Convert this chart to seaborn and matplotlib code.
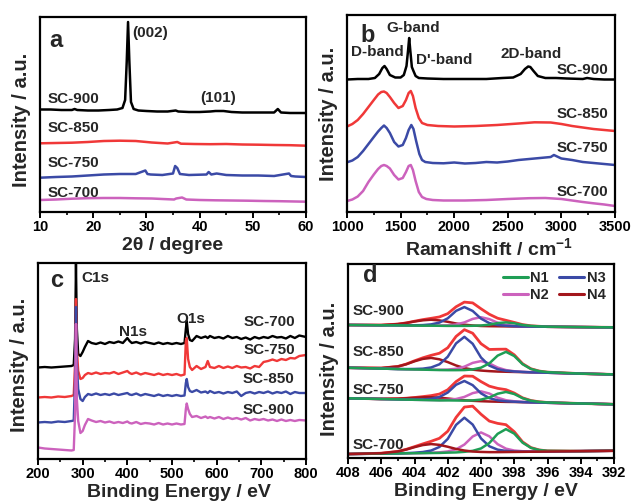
import numpy as np
import pandas as pd
import matplotlib
matplotlib.use("Agg")
import matplotlib.pyplot as plt
from matplotlib.ticker import MultipleLocator
from matplotlib.lines import Line2D
import seaborn as sns

sns.set_theme(style="white")
plt.rcParams['font.family'] = ['Liberation Sans', 'DejaVu Sans']
plt.rcParams['font.weight'] = 'bold'
plt.rcParams['axes.labelweight'] = 'bold'
plt.rcParams['mathtext.fontset'] = 'custom'
plt.rcParams['mathtext.rm'] = 'Liberation Sans:bold'
plt.rcParams['mathtext.bf'] = 'Liberation Sans:bold'
plt.rcParams['mathtext.it'] = 'Liberation Sans:bold'

BLACK, RED, BLUE, PINK = '#000000', '#f03838', '#3b4aa6', '#cc62bd'
GREEN, MAROON = '#1f9e55', '#a3161c'

# ---------------- Panel a : XRD ----------------
a_900_x = [10, 12, 14, 16, 16.5, 17, 19, 21, 23, 24.5, 25.5, 26.0, 26.3, 26.55, 26.8, 27.1, 27.6, 28.5, 30, 32,
           34, 35.5, 36, 38, 40, 42, 43, 44.5, 46, 48, 50, 52, 54, 54.7, 55.3, 57, 60]
a_900_y = [102.5, 102.5, 102, 102, 103, 102, 101.5, 101.5, 102, 102.5, 104, 112, 150, 190, 150, 110, 103, 101.5, 101, 100.5,
           100.5, 101.5, 100.5, 100, 100, 100.5, 101, 101, 100, 99.5, 99.5, 99.5, 99.5, 103, 99.5, 99, 99]
a_850_x = [10, 13, 16, 19, 22, 25, 28, 31, 34, 35.8, 36.5, 39, 42, 45, 48, 51, 54, 57, 60]
a_850_y = [68.7, 69, 69.3, 70, 71, 71.3, 71, 69.5, 68.5, 70, 68.3, 68, 67.8, 68, 67.5, 67.3, 67, 66.8, 66.3]
a_750_x = [10, 13, 16, 19, 22, 25, 28, 29.8, 30.2, 30.8, 33, 35.0, 35.4, 35.8, 36.3, 38, 41.3, 41.7, 42.2, 43.2,
           45, 48, 51, 54, 56.8, 57.2, 58, 60]
a_750_y = [34.3, 35, 35.5, 36.5, 37.5, 38, 38, 41.5, 38, 37.5, 37, 38.5, 46, 44, 38, 37, 37.5, 40, 37.5, 38.5,
           37, 36.5, 36.5, 36, 38.5, 36, 35.5, 35]
a_700_x = [10, 13, 16, 19, 22, 25, 28, 31, 33, 35.2, 35.6, 36.7, 37.5, 40, 43, 46, 49, 52, 55, 58, 60]
a_700_y = [12, 12.5, 13.3, 13.8, 14, 14, 13.7, 13.5, 13, 12.5, 13.5, 14.5, 12.5, 12, 11.7, 11.5, 11.3, 11, 10.8, 10.5, 10.3]

# ---------------- Panel b : Raman ----------------
b_900_x = [1000, 1100, 1200, 1260, 1300, 1330, 1350, 1370, 1400, 1450, 1500, 1530, 1555, 1570, 1580, 1590, 1605, 1620, 1640, 1670,
           1750, 1900, 2100, 2300, 2450, 2550, 2620, 2660, 2690, 2710, 2740, 2780, 2850, 2950, 3050, 3200, 3240, 3300, 3400, 3500]
b_900_y = [132.5, 133, 133, 134, 138, 144, 146, 143, 137, 134.5, 134.5, 137, 146, 162, 174, 162, 145, 141, 136, 134,
           133.5, 133, 133, 133, 134, 134.5, 138, 143, 145.5, 145, 141, 136, 134, 134, 133.5, 133, 134, 133, 132.5, 132.5]
b_850_x = [1000, 1050, 1100, 1150, 1200, 1250, 1290, 1320, 1345, 1370, 1400, 1440, 1480, 1520, 1550, 1575, 1595, 1615, 1640, 1670,
           1700, 1750, 1850, 2000, 2200, 2400, 2600, 2750, 2900, 3000, 3100, 3200, 3300, 3400, 3500]
b_850_y = [85.5, 88, 92, 98, 105, 112, 117.5, 120, 120.5, 119, 115, 109, 104, 106, 112, 119, 121, 116, 104, 94,
           89, 87, 86, 85.5, 86, 87, 88.5, 89.7, 89.5, 88, 86, 84.5, 83, 82, 81]
b_750_x = [1000, 1050, 1100, 1150, 1200, 1250, 1290, 1320, 1345, 1370, 1400, 1440, 1480, 1520, 1550, 1575, 1600, 1620, 1645, 1675,
           1700, 1730, 1800, 1900, 2000, 2100, 2200, 2300, 2400, 2500, 2600, 2700, 2800, 2900, 2930, 3000, 3100, 3200, 3300, 3400, 3500]
b_750_y = [49.7, 51.5, 55, 61, 68, 75, 80.5, 84, 86.5, 84, 79, 70, 65.5, 67, 74, 82, 87, 83, 71, 58,
           52, 50, 49, 48.7, 49.5, 48.5, 49, 50, 49.5, 50.5, 52, 53, 54, 55, 57, 53.5, 52, 50, 49, 48, 47]
b_700_x = [1000, 1050, 1100, 1150, 1200, 1250, 1290, 1320, 1345, 1370, 1400, 1440, 1480, 1520, 1550, 1575, 1595, 1615, 1640, 1670,
           1700, 1740, 1800, 1900, 2100, 2300, 2500, 2700, 2850, 3000, 3100, 3200, 3300, 3400, 3500]
b_700_y = [11, 12.5, 15.5, 21, 30, 37.5, 43, 46, 47, 46, 43.5, 37, 32.5, 34, 40, 46, 47, 42, 31, 20,
           15, 13, 12, 11.5, 11.5, 12, 13, 13.8, 14, 13, 11.5, 10, 8.7, 7.5, 6]

# ---------------- Panel c : XPS survey ----------------
c_x = [200, 215, 230, 245, 260, 275, 280, 283, 285, 287, 290, 295, 300, 305, 312, 320, 330, 340, 350, 360,
       370, 380, 390, 400, 405, 410, 420, 430, 440, 450, 460, 470, 480, 490, 500, 510, 520, 528, 531, 533,
       536, 540, 545, 555, 565, 575, 580, 585, 595, 605, 615, 625, 635, 645, 655, 665, 675, 685, 695, 705,
       715, 725, 735, 745, 755, 765, 775, 785, 800]
c_700 = [91.5, 92, 91.5, 92, 92.5, 93, 94, 120, 195, 130, 105, 103, 107, 112, 118, 116, 115, 116.5, 115, 117,
         116, 117.5, 116, 121, 118, 116, 117, 115.5, 117, 116, 115, 116.5, 115, 116, 115, 116, 115, 116, 130, 138,
         125, 119, 118, 123, 121, 122.5, 121, 123, 121, 122, 120.5, 123, 121, 122, 120, 121.5, 119.5, 122, 120.5, 122,
         121, 123, 121.5, 122, 120.5, 123, 121, 123.5, 122]
c_750 = [61.5, 62, 61.5, 62.5, 62, 63, 64, 95, 160, 110, 88, 80, 81, 84, 86, 85, 86.5, 85, 86, 85.5,
         87, 85, 86.5, 88, 86, 85, 86.5, 84.5, 86, 85, 84, 85.5, 84, 85, 84, 85, 83.5, 84.5, 118, 121,
         100, 92, 89, 93, 90, 92, 98, 92, 91, 93, 91, 92.5, 91, 93, 91.5, 92, 90.5, 93, 92, 97,
         98, 99.5, 98, 100, 99, 101, 100.5, 103, 104]
c_850 = [36.5, 37, 36.5, 37.5, 37, 38, 38.5, 80, 152, 95, 70, 60, 58, 62, 65, 64, 65.5, 64, 65, 64,
         65.5, 64, 65, 66, 64.5, 64, 65.5, 63.5, 65, 64, 63, 64.5, 63, 64, 63, 64, 63, 63.5, 76, 80,
         72, 68, 67, 69, 66.5, 67.5, 66, 68, 66, 67, 65.5, 67, 66, 67.5, 63, 66, 67, 65.5, 67, 66,
         67.5, 65.5, 67, 66, 67.5, 65, 67, 66, 66]
c_900 = [11.5, 10.5, 10, 9.5, 9, 8.5, 9, 45, 135, 60, 38, 26, 28, 34, 40, 38.5, 37, 38, 36.5, 37.5,
         36, 37, 36, 37.5, 36, 35.5, 37, 35, 36, 35.5, 34.5, 36, 34.5, 35.5, 34.5, 35.5, 34.5, 35, 50, 55.5,
         50, 45, 42, 43, 41, 42.5, 41, 42, 40.5, 42, 40, 41.5, 40, 41, 39.5, 41, 38.5, 40, 39, 40,
         38.5, 39.5, 38, 39.5, 38, 39, 38, 39, 38.5]

# ---------------- Panel d : N1s fits ----------------
d_x = [408, 406, 405, 404.5, 404, 403.5, 403, 402.5, 402, 401.5, 401, 400.5, 400, 399.5, 399, 398.5,
       398, 397.5, 397, 396.5, 396, 394, 392]
d_bg = {
    'SC-900': [133.7, 133.4, 133.3, 133.2, 133.1, 133.0, 133.0, 132.9, 132.8, 132.7, 132.7, 132.6, 132.5, 132.4, 132.4, 132.3,
               132.2, 132.1, 132.1, 132.0, 131.9, 131.6, 131.3],
    'SC-850': [90.7, 89.9, 89.4, 89.2, 89.0, 88.8, 88.6, 88.4, 88.2, 88.0, 87.8, 87.6, 87.4, 87.1, 86.9, 86.7,
               86.5, 86.3, 86.1, 85.9, 85.7, 84.8, 84.0],
    'SC-750': [60.0, 59.3, 58.9, 58.7, 58.5, 58.3, 58.1, 57.9, 57.8, 57.6, 57.4, 57.2, 57.0, 56.8, 56.6, 56.4,
               56.3, 56.1, 55.9, 55.7, 55.5, 54.8, 54.0],
    'SC-700': [4.0, 4.4, 4.6, 4.7, 4.8, 4.9, 5.0, 5.1, 5.2, 5.3, 5.5, 5.6, 5.7, 5.8, 5.9, 6.0,
               6.1, 6.2, 6.3, 6.4, 6.5, 6.9, 7.3],
}
d_N1 = {
    'SC-900': [0, 0, 0, 0, 0, 0, 0, 0, 0, 0.1, 0.1, 0.3, 0.7, 1.6, 3.2, 4, 3.2, 1.6, 0.7, 0.3, 0.1, 0, 0],
    'SC-850': [0, 0, 0, 0, 0, 0, 0, 0, 0.1, 0.3, 0.6, 1.4, 3.4, 8, 16, 20, 16, 8, 3.4, 1.4, 0.6, 0, 0],
    'SC-750': [0, 0, 0, 0, 0, 0, 0, 0, 0.1, 0.2, 0.3, 0.7, 1.7, 4, 8, 10, 8, 4, 1.7, 0.7, 0.3, 0, 0],
    'SC-700': [0, 0, 0, 0, 0, 0, 0, 0, 0.2, 0.3, 0.7, 1.6, 3.9, 9.2, 18.4, 23, 18.4, 9.2, 3.9, 1.6, 0.7, 0, 0],
}
d_N2 = {
    'SC-900': [0, 0, 0, 0, 0, 0.1, 0.1, 0.3, 0.6, 1.5, 3.6, 7.2, 9, 7.2, 3.6, 1.5, 0.6, 0.3, 0.1, 0.1, 0, 0, 0],
    'SC-850': [0, 0, 0, 0, 0, 0.1, 0.2, 0.3, 0.7, 1.7, 4, 8, 10, 8, 4, 1.7, 0.7, 0.3, 0.2, 0.1, 0, 0, 0],
    'SC-750': [0, 0, 0, 0, 0, 0.1, 0.2, 0.3, 0.7, 1.7, 4, 8, 10, 8, 4, 1.7, 0.7, 0.3, 0.2, 0.1, 0, 0, 0],
    'SC-700': [0, 0, 0, 0, 0, 0.1, 0.3, 0.6, 1.4, 3.4, 8, 16, 20, 16, 8, 3.4, 1.4, 0.6, 0.3, 0.1, 0, 0, 0],
}
d_N3 = {
    'SC-900': [0, 0, 0, 0.1, 0.3, 0.6, 1.3, 3.2, 7.6, 15.2, 19, 15.2, 7.6, 3.2, 1.3, 0.6, 0.3, 0.1, 0, 0, 0, 0, 0],
    'SC-850': [0, 0, 0, 0.2, 0.5, 1.0, 2.4, 5.8, 13.6, 27.2, 34, 27.2, 13.6, 5.8, 2.4, 1.0, 0.5, 0.2, 0, 0, 0, 0, 0],
    'SC-750': [0, 0, 0, 0.1, 0.3, 0.6, 1.4, 3.4, 8, 16, 20, 16, 8, 3.4, 1.4, 0.6, 0.3, 0.1, 0, 0, 0, 0, 0],
    'SC-700': [0, 0, 0, 0.2, 0.5, 1.1, 2.5, 6, 14, 28, 35, 28, 14, 6, 2.5, 1.1, 0.5, 0.2, 0, 0, 0, 0, 0],
}
d_N4 = {
    'SC-900': [0, 0.2, 1.3, 2.5, 4.1, 5.4, 6, 5.4, 4.1, 2.5, 1.3, 0.6, 0.2, 0.1, 0, 0, 0, 0, 0, 0, 0, 0, 0],
    'SC-850': [0, 0.5, 2.6, 5.0, 8.2, 10.8, 12, 10.8, 8.2, 5.0, 2.6, 1.2, 0.5, 0.2, 0, 0, 0, 0, 0, 0, 0, 0, 0],
    'SC-750': [0, 0.1, 0.7, 1.3, 2.0, 2.7, 3, 2.7, 2.0, 1.3, 0.7, 0.3, 0.1, 0, 0, 0, 0, 0, 0, 0, 0, 0, 0],
    'SC-700': [0, 0.4, 2.0, 3.8, 6.1, 8.1, 9, 8.1, 6.1, 3.8, 2.0, 0.9, 0.4, 0.1, 0, 0, 0, 0, 0, 0, 0, 0, 0],
}
d_env = {
    'SC-900': [0, 0.2, 1.3, 2.6, 4.4, 6.1, 7.4, 8.9, 12.3, 19.3, 24, 23.3, 17.5, 12.1, 8.1, 6.1, 4.1, 2.0, 0.8, 0.4, 0.1, 0, 0],
    'SC-850': [0, 0.5, 2.6, 5.2, 8.7, 11.9, 14.6, 16.9, 22.6, 34.2, 41.2, 37.8, 27.5, 22, 22.4, 22.7, 17.2, 8.5, 3.6, 1.5, 0.6, 0, 0],
    'SC-750': [0, 0.1, 0.7, 1.4, 2.3, 3.4, 4.6, 6.4, 10.8, 19.2, 25, 25, 19.8, 15.4, 13.4, 12.3, 9, 4.4, 1.9, 0.8, 0.3, 0, 0],
    'SC-700': [0, 0.4, 2.0, 4.0, 6.6, 9.3, 11.8, 14.7, 21.7, 35.5, 45.7, 46.5, 38.3, 31.3, 28.9, 27.5, 20.3, 10, 4.2, 1.7, 0.7, 0, 0],
}

fig = plt.figure(figsize=(6.33, 5.04), dpi=100)
W, H = 633, 504


def add_axes(l, r, t, b):
    return fig.add_axes([l / W, 1 - b / H, (r - l) / W, (b - t) / H])


axA = add_axes(40, 306, 17, 212)
axB = add_axes(347, 615, 15, 212)
axC = add_axes(38, 306, 263, 459)
axD = add_axes(348, 614, 264, 458)

LW = 1.8


def line(ax, x, y, color, lw=LW, z=2):
    sns.lineplot(x=np.asarray(x, float), y=np.asarray(y, float), ax=ax, color=color,
                 linewidth=lw, estimator=None, sort=False, zorder=z)


# panel a
for x, y, c in [(a_700_x, a_700_y, PINK), (a_750_x, a_750_y, BLUE),
                (a_850_x, a_850_y, RED), (a_900_x, a_900_y, BLACK)]:
    line(axA, x, y, c)
axA.set_xlim(10, 60)
axA.set_ylim(0, 195)
axA.xaxis.set_major_locator(MultipleLocator(10))
axA.xaxis.set_minor_locator(MultipleLocator(5))

# panel b
for x, y, c in [(b_700_x, b_700_y, PINK), (b_750_x, b_750_y, BLUE),
                (b_850_x, b_850_y, RED), (b_900_x, b_900_y, BLACK)]:
    line(axB, x, y, c)
axB.set_xlim(1000, 3500)
axB.set_ylim(0, 197)
axB.xaxis.set_major_locator(MultipleLocator(500))
axB.xaxis.set_minor_locator(MultipleLocator(250))

# panel c
for y, c in [(c_700, BLACK), (c_750, RED), (c_850, BLUE), (c_900, PINK)]:
    line(axC, c_x, y, c, lw=1.7)
axC.set_xlim(200, 800)
axC.set_ylim(0, 196)
axC.xaxis.set_major_locator(MultipleLocator(100))
axC.xaxis.set_minor_locator(MultipleLocator(50))

# panel d
for s in ['SC-900', 'SC-850', 'SC-750', 'SC-700']:
    bg = np.asarray(d_bg[s])
    line(axD, d_x, bg + np.asarray(d_env[s]), RED, lw=2.0)
    comps = [(d_N4, MAROON), (d_N2, PINK), (d_N3, BLUE), (d_N1, GREEN)]
    if s == 'SC-700':
        comps = [(d_N2, PINK), (d_N3, BLUE), (d_N1, GREEN), (d_N4, MAROON)]
    for comp, col in comps:
        line(axD, d_x, bg + np.asarray(comp[s]), col, lw=1.8)
axD.set_xlim(408, 392)
axD.set_ylim(0, 195)
axD.xaxis.set_major_locator(MultipleLocator(2))
axD.xaxis.set_minor_locator(MultipleLocator(1))

handles = [Line2D([], [], color=GREEN, lw=2.2), Line2D([], [], color=PINK, lw=2.2),
           Line2D([], [], color=BLUE, lw=2.2), Line2D([], [], color=MAROON, lw=2.2)]
axD.legend(handles, ['N1', 'N2', 'N3', 'N4'], ncol=2, loc='upper right',
           bbox_to_anchor=(0.97, 0.965), frameon=False, fontsize=10.5,
           handlelength=1.7, handletextpad=0.2, columnspacing=0.7,
           labelspacing=0.2, borderpad=0, borderaxespad=0)

# common styling
xlabels = {axA: '2θ / degree', axB: r'Ramanshift / cm$^{-1}$',
           axC: 'Binding Energy / eV', axD: 'Binding Energy / eV'}
ylab_y = {axA: 0.47, axB: 0.5, axC: 0.48, axD: 0.46}
xlab_x = {axA: 0.5, axB: 0.53, axC: 0.525, axD: 0.52}
for ax in [axA, axB, axC, axD]:
    for sp in ax.spines.values():
        sp.set_linewidth(1.6)
        sp.set_color('black')
    ax.set_yticks([])
    ax.tick_params(axis='x', which='both', bottom=True, top=False, direction='out',
                   colors='black', labelsize=10.5, pad=2)
    ax.tick_params(axis='x', which='major', length=4, width=1.4)
    ax.tick_params(axis='x', which='minor', length=2.5, width=1.2)
    ax.set_xlabel(xlabels[ax], fontsize=14, fontweight='bold', va='top')
    ax.xaxis.set_label_coords(xlab_x[ax], -0.13)
    ax.set_ylabel('Intensity / a.u.', fontsize=14.5, fontweight='bold')
    ax.yaxis.set_label_coords(-0.035, ylab_y[ax])
    ax.grid(False)

TS = 11
# texts panel a
axA.text(11.7, 165, 'a', fontsize=17, fontweight='bold')
axA.text(27.3, 175, '(002)', fontsize=TS, fontweight='bold')
axA.text(40.1, 110, '(101)', fontsize=TS, fontweight='bold')
for lab, yy in [('SC-900', 108.7), ('SC-850', 80.3), ('SC-750', 45.3), ('SC-700', 14.7)]:
    axA.text(11.5, yy, lab, fontsize=TS, fontweight='bold')

# panel b
axB.text(1121, 170, 'b', fontsize=17, fontweight='bold')
axB.text(1364, 180, 'G-band', fontsize=TS, fontweight='bold')
axB.text(1034, 156, 'D-band', fontsize=TS, fontweight='bold')
axB.text(1644, 148, "D'-band", fontsize=TS, fontweight='bold')
axB.text(2434, 153.7, '2D-band', fontsize=TS, fontweight='bold')
for lab, yy in [('SC-900', 138), ('SC-850', 93.7), ('SC-750', 59.7), ('SC-700', 16.3)]:
    axB.text(3437, yy, lab, fontsize=TS, fontweight='bold', ha='right')

# panel c
axC.text(227, 171.7, 'c', fontsize=17, fontweight='bold')
axC.text(298, 176.7, 'C1s', fontsize=TS, fontweight='bold')
axC.text(381, 122.7, 'N1s', fontsize=TS, fontweight='bold')
axC.text(510.5, 136, 'O1s', fontsize=TS, fontweight='bold')
for lab, yy in [('SC-700', 133.3), ('SC-750', 105), ('SC-850', 75.7), ('SC-900', 45)]:
    axC.text(775, yy, lab, fontsize=TS, fontweight='bold', ha='right')

# panel d
axD.text(407.1, 177.3, 'd', fontsize=17, fontweight='bold')
for lab, yy in [('SC-900', 144), ('SC-850', 103), ('SC-750', 64), ('SC-700', 9)]:
    axD.text(407.7, yy, lab, fontsize=TS, fontweight='bold')

fig.savefig('out.png', dpi=100)
